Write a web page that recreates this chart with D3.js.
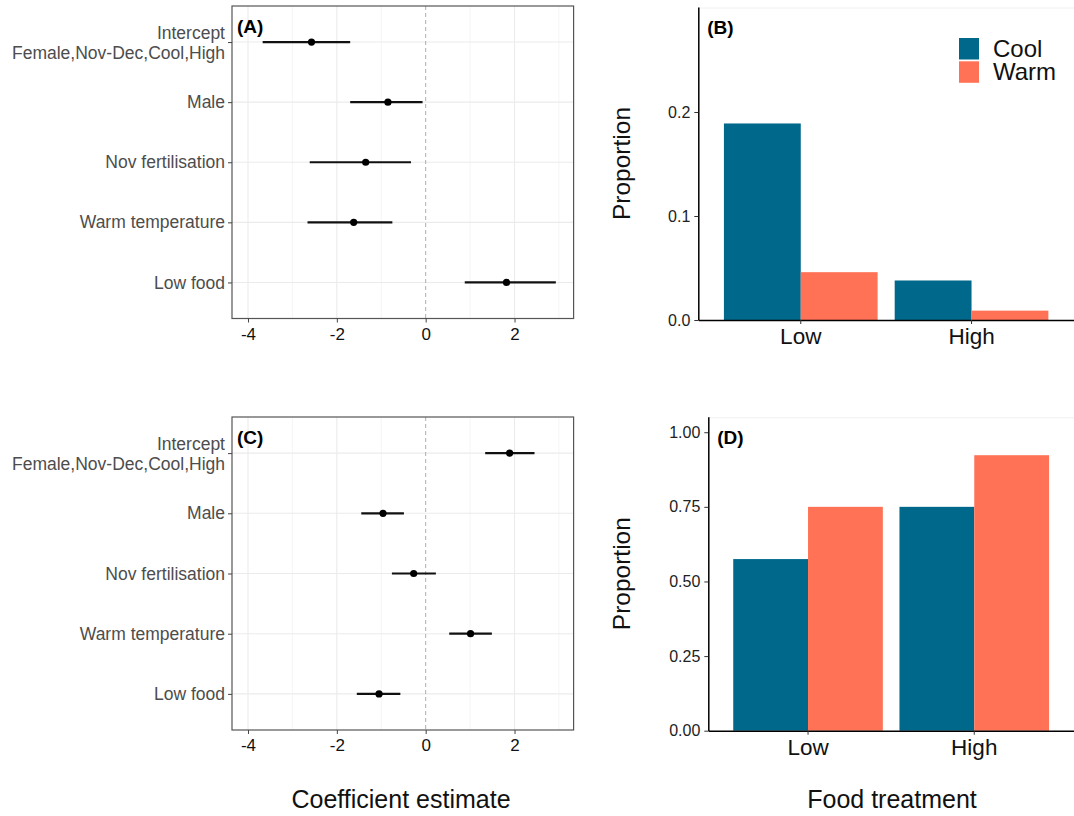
<!DOCTYPE html>
<html>
<head>
<meta charset="utf-8">
<script src="https://cdn.jsdelivr.net/npm/d3@7"></script>
<style>
  body { margin: 0; background: #fff; }
  svg { display: block; font-family: "Liberation Sans", Arial, sans-serif; }
</style>
</head>
<body>
<svg id="chart" width="1074" height="816"></svg>
<script>
// model terms (forest plots A and C)
var terms = ["Intercept\nFemale,Nov-Dec,Cool,High", "Male", "Nov fertilisation", "Warm temperature", "Low food"];
var estA = [-2.57, -0.85, -1.35, -1.62, 1.82];
var lowA = [-3.67, -1.70, -2.61, -2.66, 0.88];
var highA = [-1.70, -0.07, -0.33, -0.75, 2.93];
var estC = [1.89, -0.96, -0.27, 1.01, -1.05];
var lowC = [1.34, -1.45, -0.76, 0.53, -1.55];
var highC = [2.45, -0.49, 0.23, 1.49, -0.57];
var coefTicks = [-4, -2, 0, 2];
var coefMinor = [-3, -1, 1, 3];

// bar charts B and D
var foodLevels = ["Low", "High"];
var temps = ["Cool", "Warm"];
var propB_cool = [0.189, 0.038];
var propB_warm = [0.046, 0.009];
var propD_cool = [0.575, 0.75];
var propD_warm = [0.75, 0.923];
var ticksB = [0, 0.1, 0.2];
var ticksD = [0, 0.25, 0.5, 0.75, 1];

var colors = {Cool: "#00688B", Warm: "#FF7256"};
var svg = d3.select("#chart");

var x = d3.scaleLinear().domain([-4.36, 3.33]).range([232, 573.6]);

function forest(tag, est, lo, hi, top, bottom) {
  var g = svg.append("g");
  var y = d3.scalePoint().domain(terms).range([top, bottom]).padding(0.6);
  var rows = terms.map(function(t, i) { return {term: t, est: est[i], lo: lo[i], hi: hi[i]}; });

  // grid
  g.selectAll(".minor").data(coefMinor).enter().append("line")
    .attr("x1", d => x(d)).attr("x2", d => x(d)).attr("y1", top).attr("y2", bottom)
    .attr("stroke", "#f2f2f2").attr("stroke-width", 0.8);
  g.selectAll(".major").data(coefTicks.filter(d => d != 0)).enter().append("line")
    .attr("x1", d => x(d)).attr("x2", d => x(d)).attr("y1", top).attr("y2", bottom)
    .attr("stroke", "#ebebeb").attr("stroke-width", 1.1);
  g.selectAll(".hgrid").data(terms).enter().append("line")
    .attr("x1", 232).attr("x2", 573.6).attr("y1", d => y(d)).attr("y2", d => y(d))
    .attr("stroke", "#ebebeb").attr("stroke-width", 1.1);
  g.append("line").attr("x1", x(0)).attr("x2", x(0)).attr("y1", top).attr("y2", bottom)
    .attr("stroke", "#9a9a9a").attr("stroke-width", 0.8).attr("stroke-dasharray", "4,3");

  // intervals and points
  g.selectAll(".ci").data(rows).enter().append("line")
    .attr("x1", d => x(d.lo)).attr("x2", d => x(d.hi))
    .attr("y1", d => y(d.term)).attr("y2", d => y(d.term))
    .attr("stroke", "#111").attr("stroke-width", 2.2);
  g.selectAll(".pt").data(rows).enter().append("circle")
    .attr("cx", d => x(d.est)).attr("cy", d => y(d.term)).attr("r", 3.6)
    .attr("fill", "#000");

  g.append("rect").attr("x", 232).attr("y", top).attr("width", 573.6 - 232).attr("height", bottom - top)
    .attr("fill", "none").attr("stroke", "#555").attr("stroke-width", 1.2);

  // axes
  var xa = g.append("g").attr("transform", "translate(0," + bottom + ")")
    .call(d3.axisBottom(x).tickValues(coefTicks).tickFormat(d => String(d))
      .tickSize(4).tickSizeOuter(0).tickPadding(5));
  xa.select(".domain").remove();
  xa.selectAll("line").attr("stroke", "#444");
  xa.selectAll("text").attr("font-size", 17).attr("fill", "#111").attr("font-family", null);

  var ya = g.append("g").attr("transform", "translate(232,0)")
    .call(d3.axisLeft(y).tickSize(4).tickPadding(3));
  ya.select(".domain").remove();
  ya.selectAll("line").attr("stroke", "#444");
  ya.selectAll("text").attr("font-size", 17.5).attr("fill", "#4d4d4d").attr("font-family", null)
    .each(function(d) {
      var parts = d.split("\n");
      if (parts.length > 1) {
        var t = d3.select(this).text(null).attr("dy", null);
        parts.forEach(function(p, i) {
          t.append("tspan").attr("x", -7).attr("y", i == 0 ? -4 : 16).text(p);
        });
      }
    });

  g.append("text").attr("x", 237).attr("y", top + 27).attr("font-size", 19)
    .attr("font-weight", "bold").attr("fill", "#000").text(tag);
}

function bars(tag, cool, warm, ticks, fmt, left, top, bottom, ymax, legend) {
  var g = svg.append("g");
  var xb = d3.scaleBand().domain(foodLevels).range([left, 1074]).paddingInner(0.1).paddingOuter(0.15);
  var xt = d3.scaleBand().domain(temps).range([0, xb.bandwidth()]);
  var y = d3.scaleLinear().domain([0, ymax]).range([bottom, top]);
  var rows = [];
  foodLevels.forEach(function(f, i) {
    rows.push({food: f, temp: "Cool", v: cool[i]});
    rows.push({food: f, temp: "Warm", v: warm[i]});
  });

  g.append("line").attr("x1", left).attr("x2", 1074).attr("y1", top + 1).attr("y2", top + 1)
    .attr("stroke", "#f0f0f0").attr("stroke-width", 1);

  g.selectAll(".bar").data(rows).enter().append("rect")
    .attr("x", d => xb(d.food) + xt(d.temp)).attr("width", xt.bandwidth())
    .attr("y", d => y(d.v)).attr("height", d => bottom - y(d.v))
    .attr("fill", d => colors[d.temp]);

  var ya = g.append("g").attr("transform", "translate(" + left + ",0)")
    .call(d3.axisLeft(y).tickValues(ticks).tickFormat(d3.format(fmt)).tickSize(4).tickSizeOuter(0).tickPadding(4));
  ya.select(".domain").attr("stroke", "#000").attr("stroke-width", 1.5);
  ya.selectAll("line").attr("stroke", "#333");
  ya.selectAll("text").attr("font-size", 16).attr("fill", "#222").attr("font-family", null);

  var xa = g.append("g").attr("transform", "translate(0," + bottom + ")")
    .call(d3.axisBottom(xb).tickSize(4).tickSizeOuter(0).tickPadding(4));
  xa.select(".domain").attr("stroke", "#000").attr("stroke-width", 1.5);
  xa.selectAll("line").attr("stroke", "#333");
  xa.selectAll("text").attr("font-size", 22.5).attr("fill", "#111").attr("font-family", null);

  g.append("text").attr("transform", "translate(630," + ((top + bottom) / 2) + ") rotate(-90)")
    .attr("text-anchor", "middle").attr("font-size", 24.5).attr("fill", "#111").text("Proportion");

  g.append("text").attr("x", left + 9).attr("y", top + 27).attr("font-size", 19)
    .attr("font-weight", "bold").attr("fill", "#000").text(tag);

  if (legend) {
    var lg = g.selectAll(".leg").data(temps).enter().append("g")
      .attr("transform", (d, i) => "translate(959," + (38 + i * 23.3) + ")");
    lg.append("rect").attr("width", 20).attr("height", 21.5).attr("fill", d => colors[d]);
    lg.append("text").attr("x", 34).attr("y", 19).attr("font-size", 24).attr("fill", "#111").text(d => d);
  }
}

forest("(A)", estA, lowA, highA, 6, 318.5);
forest("(C)", estC, lowC, highC, 417, 730);
bars("(B)", propB_cool, propB_warm, ticksB, ".1f", 698.3, 7, 320, 0.301, true);
bars("(D)", propD_cool, propD_warm, ticksD, ".2f", 708.3, 416.7, 730.7, 1.052, false);

svg.append("text").attr("x", 401).attr("y", 808).attr("text-anchor", "middle")
  .attr("font-size", 25).attr("fill", "#111").text("Coefficient estimate");
svg.append("text").attr("x", 892).attr("y", 808).attr("text-anchor", "middle")
  .attr("font-size", 25).attr("fill", "#111").text("Food treatment");
</script>
</body>
</html>
